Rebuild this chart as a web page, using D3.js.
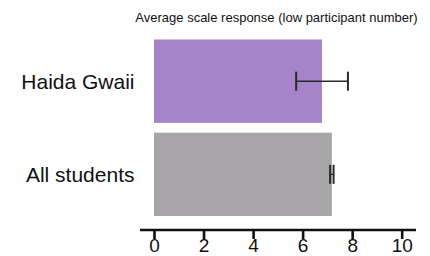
<!DOCTYPE html>
<html>
<head>
<meta charset="utf-8">
<script src="https://cdn.jsdelivr.net/npm/d3@7"></script>
<style>
  body { margin: 0; background: #fff; }
  svg { display: block; font-family: "Liberation Sans", Arial, sans-serif; }
</style>
</head>
<body>
<svg id="chart" width="430" height="256"></svg>
<script>
// data
var groups = ["Haida Gwaii", "All students"];
var means = [6.78, 7.18];
var errLow = [5.74, 7.11];
var errHigh = [7.83, 7.25];
var colors = ["#a783c9", "#a8a5a9"];
var ticks = [0, 2, 4, 6, 8, 10];
var title = "Average scale response (low participant number)";

var svg = d3.select("#chart");

var x = d3.scaleLinear().domain([0, 10]).range([154, 401.7]);
var y = d3.scaleBand().domain(groups).range([39.5, 216]).paddingInner(0.105);

var rows = groups.map(function (g, i) {
  return { name: g, mean: means[i], lo: errLow[i], hi: errHigh[i], color: colors[i] };
});

// bars
svg.selectAll("rect.bar")
  .data(rows)
  .enter()
  .append("rect")
  .attr("class", "bar")
  .attr("x", x(0))
  .attr("y", function (d) { return y(d.name); })
  .attr("width", function (d) { return x(d.mean) - x(0); })
  .attr("height", y.bandwidth())
  .attr("fill", function (d) { return d.color; });

// error bars
var err = svg.selectAll("g.err")
  .data(rows)
  .enter()
  .append("g")
  .attr("class", "err")
  .attr("stroke", "#2a2a2a")
  .attr("stroke-width", 1.4);

err.append("line")
  .attr("x1", function (d) { return x(d.lo); })
  .attr("x2", function (d) { return x(d.hi); })
  .attr("y1", function (d) { return y(d.name) + y.bandwidth() / 2; })
  .attr("y2", function (d) { return y(d.name) + y.bandwidth() / 2; });

err.selectAll("line.cap")
  .data(function (d) {
    return [d.lo, d.hi].map(function (v) { return { v: v, cy: y(d.name) + y.bandwidth() / 2 }; });
  })
  .enter()
  .append("line")
  .attr("class", "cap")
  .attr("stroke-width", 2)
  .attr("x1", function (d) { return x(d.v); })
  .attr("x2", function (d) { return x(d.v); })
  .attr("y1", function (d) { return d.cy - 9.5; })
  .attr("y2", function (d) { return d.cy + 9.5; });

// category labels
svg.selectAll("text.cat")
  .data(rows)
  .enter()
  .append("text")
  .attr("class", "cat")
  .attr("x", 134.5)
  .attr("y", function (d) { return y(d.name) + y.bandwidth() / 2; })
  .attr("dy", "0.36em")
  .attr("text-anchor", "end")
  .attr("font-size", "21px")
  .attr("fill", "#111")
  .text(function (d) { return d.name; });

// x axis
var axis = svg.append("g")
  .attr("transform", "translate(0,230)")
  .call(d3.axisBottom(x).tickValues(ticks).tickSize(9).tickPadding(0).tickFormat(d3.format("d")));

axis.select(".domain")
  .attr("d", "M140,0H416")
  .attr("stroke", "#111")
  .attr("stroke-width", 2.6);
axis.selectAll(".tick line").attr("stroke", "#111").attr("stroke-width", 2.6);
axis.selectAll(".tick text")
  .attr("font-size", "19px")
  .attr("font-family", "Liberation Sans, Arial, sans-serif")
  .attr("fill", "#111");

// title
svg.append("text")
  .attr("x", 276.5)
  .attr("y", 22)
  .attr("text-anchor", "middle")
  .attr("font-size", "13px")
  .attr("fill", "#111")
  .text(title);
</script>
</body>
</html>
